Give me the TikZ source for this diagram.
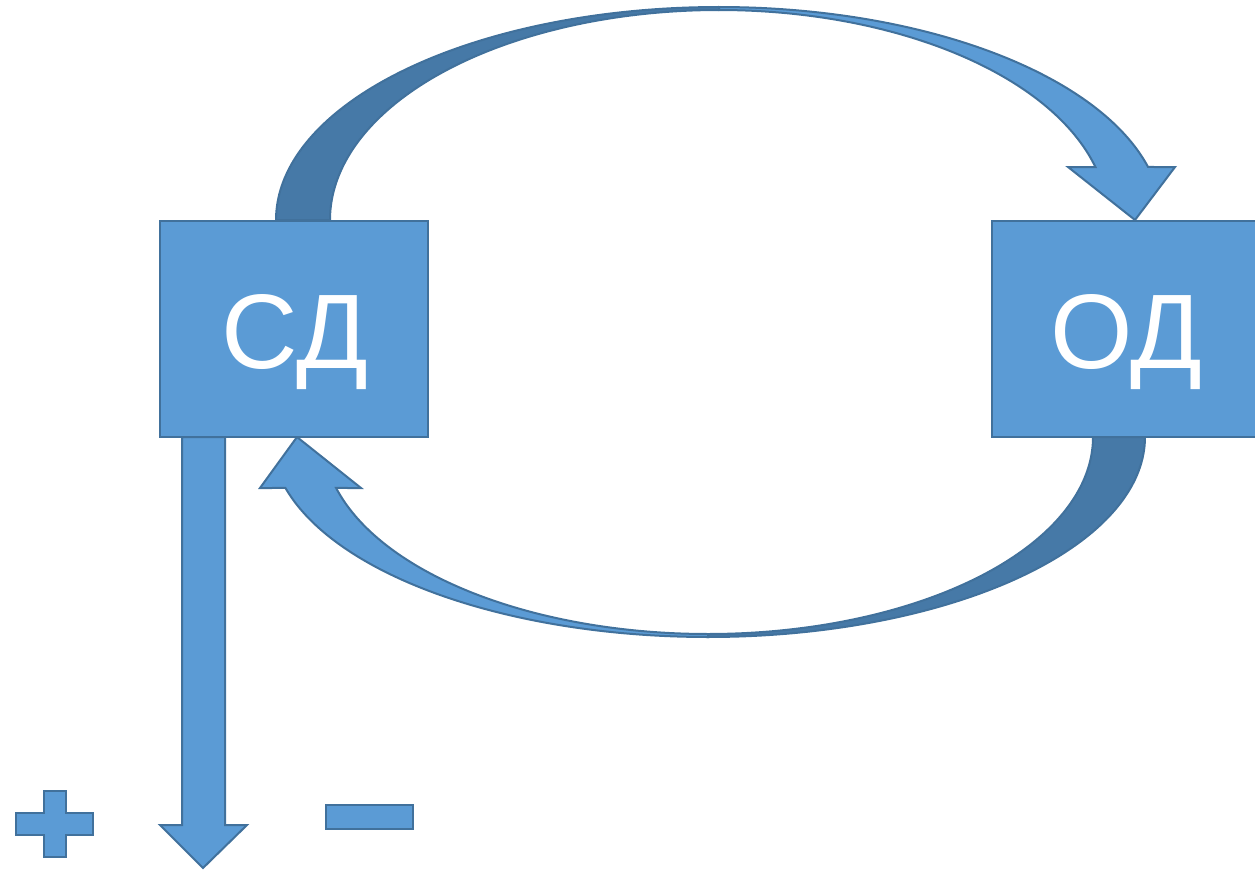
\documentclass[tikz,border=0pt]{standalone}
\usepackage{fontspec}
\setmainfont{Liberation Sans}
\definecolor{fillblue}{HTML}{5B9BD5}
\definecolor{lineblue}{HTML}{41719C}
\definecolor{darkblue}{HTML}{4679A7}
\begin{document}
\begin{tikzpicture}[x=1pt,y=-1pt,
  shapefill/.style={fill=fillblue, draw=lineblue, line width=2pt, line join=miter},
  backfill/.style={fill=darkblue, draw=lineblue, line width=2pt},
  box/.style={shapefill, minimum width=268pt, minimum height=216pt, inner sep=0pt, outer sep=0pt},
  boxtext/.style={text=white, font=\fontsize{106}{118}\selectfont, anchor=base, inner sep=0pt}]
\path[use as bounding box] (0,0) rectangle (1255,870);
\clip (0,0) rectangle (1255,870);

% named end points of the block arrows
\coordinate (toptip) at (1135,220);
\coordinate (bottip) at (297,437);
\coordinate (downtip) at (203,868);

% top curved arrow: back part (dark), then front part with head
\draw[backfill] plot[domain=180:270,samples=90,variable=\t] ({719+443*cos(\t)},{220+213*sin(\t)})
  -- plot[domain=270:180,samples=90,variable=\t] ({719+389*cos(\t)},{220+210*sin(\t)}) -- cycle;
\draw[shapefill] plot[domain=270:345.59,samples=90,variable=\t] ({719+443*cos(\t)},{220+213*sin(\t)})
  -- (1175,167) -- (toptip) -- (1068,167)
  -- plot[domain=345.38:270,samples=90,variable=\t] ({719+389*cos(\t)},{220+210*sin(\t)}) -- cycle;

% bottom curved arrow: back part (dark), then front part with head
\draw[backfill] plot[domain=0:90,samples=90,variable=\t] ({708+437*cos(\t)},{437+200*sin(\t)})
  -- plot[domain=90:0,samples=90,variable=\t] ({708+385*cos(\t)},{437+197*sin(\t)}) -- cycle;
\draw[shapefill] plot[domain=90:165.23,samples=90,variable=\t] ({708+437*cos(\t)},{437+200*sin(\t)})
  -- (260,488) -- (bottip) -- (361,488)
  -- plot[domain=165.0:90,samples=90,variable=\t] ({708+385*cos(\t)},{437+197*sin(\t)}) -- cycle;

% boxes
\node[box] (sd) at (294,329) {};
\node[box, minimum width=275pt] (od) at (1129.5,329) {};
\node[boxtext] (sdtext) at (295,368) {СД};
\node[boxtext] (odtext) at (1126,368) {ОД};

% downward arrow from СД
\draw[shapefill] (182,437) -- (182,825) -- (160,825) -- (downtip) -- (247,825) -- (225,825) -- (225,437) -- cycle;

% plus sign
\draw[shapefill] (44,791) -- (66,791) -- (66,813) -- (93,813) -- (93,835) -- (66,835) -- (66,857)
  -- (44,857) -- (44,835) -- (16,835) -- (16,813) -- (44,813) -- cycle;
% minus sign
\draw[shapefill] (326,805) rectangle (413,829);
\end{tikzpicture}
\end{document}
